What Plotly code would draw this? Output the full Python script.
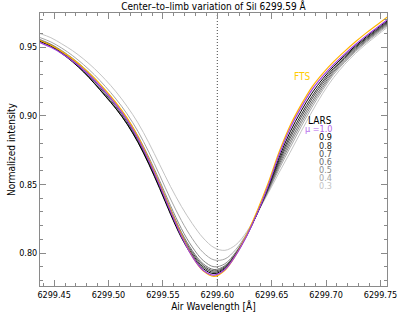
import plotly.graph_objects as go

wavelength = [6299.437, 6299.447, 6299.457, 6299.467, 6299.477, 6299.487, 6299.497, 6299.507,
              6299.517, 6299.527, 6299.537, 6299.547, 6299.557, 6299.567, 6299.577, 6299.587,
              6299.597, 6299.607, 6299.617, 6299.627, 6299.637, 6299.647, 6299.657, 6299.667,
              6299.677, 6299.687, 6299.697, 6299.707, 6299.717, 6299.727, 6299.737, 6299.747,
              6299.757]

fts = [0.955, 0.9515, 0.947, 0.9415, 0.935, 0.9275, 0.919, 0.9095, 0.8985, 0.885, 0.8685,
       0.8505, 0.8315, 0.8135, 0.7975, 0.787, 0.783, 0.7875, 0.7985, 0.8135, 0.8315, 0.8515,
       0.874, 0.893, 0.908, 0.921, 0.931, 0.9395, 0.947, 0.954, 0.9605, 0.9665, 0.9725]
mu10 = [0.9535, 0.950, 0.9455, 0.940, 0.9335, 0.926, 0.9175, 0.908, 0.897, 0.8835, 0.8675,
        0.8495, 0.8305, 0.8125, 0.7975, 0.7875, 0.784, 0.788, 0.7985, 0.8125, 0.8295, 0.8495,
        0.872, 0.891, 0.906, 0.919, 0.929, 0.9375, 0.945, 0.952, 0.9585, 0.9645, 0.9705]
mu09 = [0.9542, 0.9507, 0.9455, 0.9393, 0.932, 0.9236, 0.9144, 0.9050, 0.894, 0.8807, 0.8648,
        0.847, 0.8283, 0.8112, 0.7980, 0.7887, 0.785, 0.7887, 0.7989, 0.8127, 0.8295, 0.8487,
        0.8701, 0.8884, 0.9034, 0.9166, 0.9271, 0.9362, 0.9439, 0.951, 0.9576, 0.9637, 0.9697]
mu08 = [0.9545, 0.9511, 0.9460, 0.9398, 0.9325, 0.9240, 0.9149, 0.9054, 0.8945, 0.8812, 0.8655,
        0.8478, 0.8292, 0.8121, 0.7992, 0.7899, 0.786, 0.7894, 0.7993, 0.8128, 0.8295, 0.8479,
        0.8681, 0.8858, 0.9008, 0.9142, 0.9253, 0.9348, 0.9428, 0.9501, 0.9567, 0.9628, 0.9689]
mu07 = [0.9548, 0.9514, 0.9465, 0.9405, 0.9334, 0.9252, 0.9160, 0.9066, 0.8957, 0.8825, 0.8668,
        0.8492, 0.8308, 0.8137, 0.8005, 0.791, 0.787, 0.7901, 0.7996, 0.8130, 0.8295, 0.8472,
        0.8665, 0.8837, 0.8987, 0.9123, 0.9238, 0.9337, 0.9419, 0.9493, 0.956, 0.9621, 0.9682]
mu06 = [0.9551, 0.9518, 0.9470, 0.9411, 0.9343, 0.9263, 0.9172, 0.9078, 0.8969, 0.8838, 0.8682,
        0.8507, 0.8324, 0.8152, 0.8018, 0.7922, 0.788, 0.7908, 0.800, 0.8131, 0.8295, 0.8465,
        0.8649, 0.8814, 0.8964, 0.9102, 0.9221, 0.9325, 0.9409, 0.9484, 0.9552, 0.9614, 0.9675]
mu05 = [0.9557, 0.9523, 0.9476, 0.9420, 0.9353, 0.9276, 0.9187, 0.9093, 0.8985, 0.8855, 0.8700,
        0.8527, 0.8346, 0.8178, 0.8044, 0.7946, 0.790, 0.7922, 0.8008, 0.8134, 0.8295, 0.8458,
        0.8633, 0.8793, 0.8943, 0.9083, 0.9206, 0.9315, 0.940, 0.9476, 0.9545, 0.9607, 0.9668]
mu04 = [0.9571, 0.9539, 0.9494, 0.9439, 0.9374, 0.930, 0.9215, 0.9122, 0.9015, 0.8888, 0.8737,
        0.8568, 0.8394, 0.8237, 0.8105, 0.8004, 0.795, 0.7957, 0.8026, 0.8142, 0.8295, 0.8451,
        0.8616, 0.877, 0.892, 0.9062, 0.919, 0.9303, 0.939, 0.9468, 0.9537, 0.9599, 0.9661]
mu03 = [0.960, 0.957, 0.9525, 0.9475, 0.9415, 0.9345, 0.9265, 0.9175, 0.907, 0.895, 0.8805,
        0.8645, 0.8485, 0.834, 0.8215, 0.811, 0.804, 0.802, 0.806, 0.8155, 0.8295, 0.844,
        0.859, 0.8735, 0.8885, 0.903, 0.9165, 0.928, 0.9375, 0.9455, 0.9525, 0.9588, 0.965]

mu_labels = ["0.3", "0.4", "0.5", "0.6", "0.7", "0.8", "0.9"]
mu_series = [mu03, mu04, mu05, mu06, mu07, mu08, mu09]
gray_colors = ["#c4c4c4", "#a6a6a6", "#8a8a8a", "#6e6e6e", "#4e4e4e", "#2a2a2a", "#000000"]

line_center = 6299.60
x_range = [6299.437, 6299.756]
y_range = [0.776, 0.975]

FTS_COLOR = "#ffb400"
FTS_TEXT = "#ffcc00"
MU1_COLOR = "#a040e0"
MU1_TEXT = "#b466ec"

FONT = "Liberation Sans Narrow, Arial Narrow, DejaVu Sans Condensed, Liberation Sans, Arial, sans-serif"

fig = go.Figure()
for lab, ys, col in zip(mu_labels, mu_series, gray_colors):
    fig.add_trace(go.Scatter(x=wavelength, y=ys, mode="lines", name="mu=" + lab,
                             line=dict(color=col, width=1, shape="spline", smoothing=1.0)))
fig.add_trace(go.Scatter(x=wavelength, y=fts, mode="lines", name="FTS",
                         line=dict(color=FTS_COLOR, width=1.2, shape="spline", smoothing=1.0)))
fig.add_trace(go.Scatter(x=wavelength, y=mu10, mode="lines", name="mu=1.0",
                         line=dict(color=MU1_COLOR, width=1.2, shape="spline", smoothing=1.0)))

fig.add_shape(type="line", xref="x", yref="paper", x0=line_center, x1=line_center, y0=0, y1=1,
              line=dict(color="#444444", width=1, dash="1px,2px"), layer="below")

label_x = 0.844
LBL = 9
ann = []
ann.append(dict(text="FTS", x=0.781, y=0.769, xref="paper", yref="paper", xanchor="right",
                yanchor="middle", showarrow=False, borderpad=0,
                font=dict(color=FTS_TEXT, size=10, family=FONT)))
ann.append(dict(text="LARS", x=label_x, y=0.608, xref="paper", yref="paper", xanchor="right",
                yanchor="middle", showarrow=False, borderpad=0,
                font=dict(color="black", size=10, family=FONT)))
ann.append(dict(text="μ =1.0", x=label_x, y=0.574, xref="paper", yref="paper", xanchor="right",
                yanchor="middle", showarrow=False, borderpad=0,
                font=dict(color=MU1_TEXT, size=LBL, family=FONT)))
for i, (lab, col) in enumerate(zip(mu_labels[::-1], gray_colors[::-1])):
    ann.append(dict(text=lab, x=label_x, y=0.544 - i * 0.0298, xref="paper", yref="paper",
                    xanchor="right", yanchor="middle", showarrow=False, borderpad=0,
                    font=dict(color=col, size=LBL, family=FONT)))

fig.update_layout(
    width=399, height=313,
    margin=dict(l=40, r=12, t=13, b=27, autoexpand=False),
    paper_bgcolor="white", plot_bgcolor="white",
    showlegend=False,
    font=dict(family=FONT, size=9, color="black"),
    title=dict(text="Center–to–limb variation of Si<span style='font-size:9px'>I</span> 6299.59 Å",
               x=0.535, xanchor="center", y=0.99, yanchor="top",
               font=dict(size=10, family=FONT, color="black")),
    annotations=ann,
)

axis_common = dict(showgrid=False, zeroline=False, showline=True, linecolor="#8a8a8a",
                   linewidth=1, mirror="ticks", ticks="inside", ticklen=6, tickcolor="#8a8a8a",
                   tickfont=dict(size=9, family=FONT, color="black"), ticklabeloverflow="allow",
                   automargin=False)
fig.update_xaxes(range=x_range, dtick=0.05, tick0=6299.45, tickformat=".2f",
                 minor=dict(dtick=0.01, ticks="inside", ticklen=3, tickcolor="#8a8a8a"),
                 title=dict(text="Air Wavelength [Å]", standoff=1, font=dict(size=10, family=FONT)),
                 **axis_common)
fig.update_yaxes(range=y_range, dtick=0.05, tick0=0.80, tickformat=".2f",
                 minor=dict(dtick=0.01, ticks="inside", ticklen=3, tickcolor="#8a8a8a"),
                 title=dict(text="Normalized intensity", standoff=1, font=dict(size=10, family=FONT)),
                 **axis_common)

fig.write_html("out.html", config={"displayModeBar": False, "staticPlot": True},
               post_script="document.body.style.margin='0';document.body.style.padding='0';document.body.style.overflow='hidden';")
